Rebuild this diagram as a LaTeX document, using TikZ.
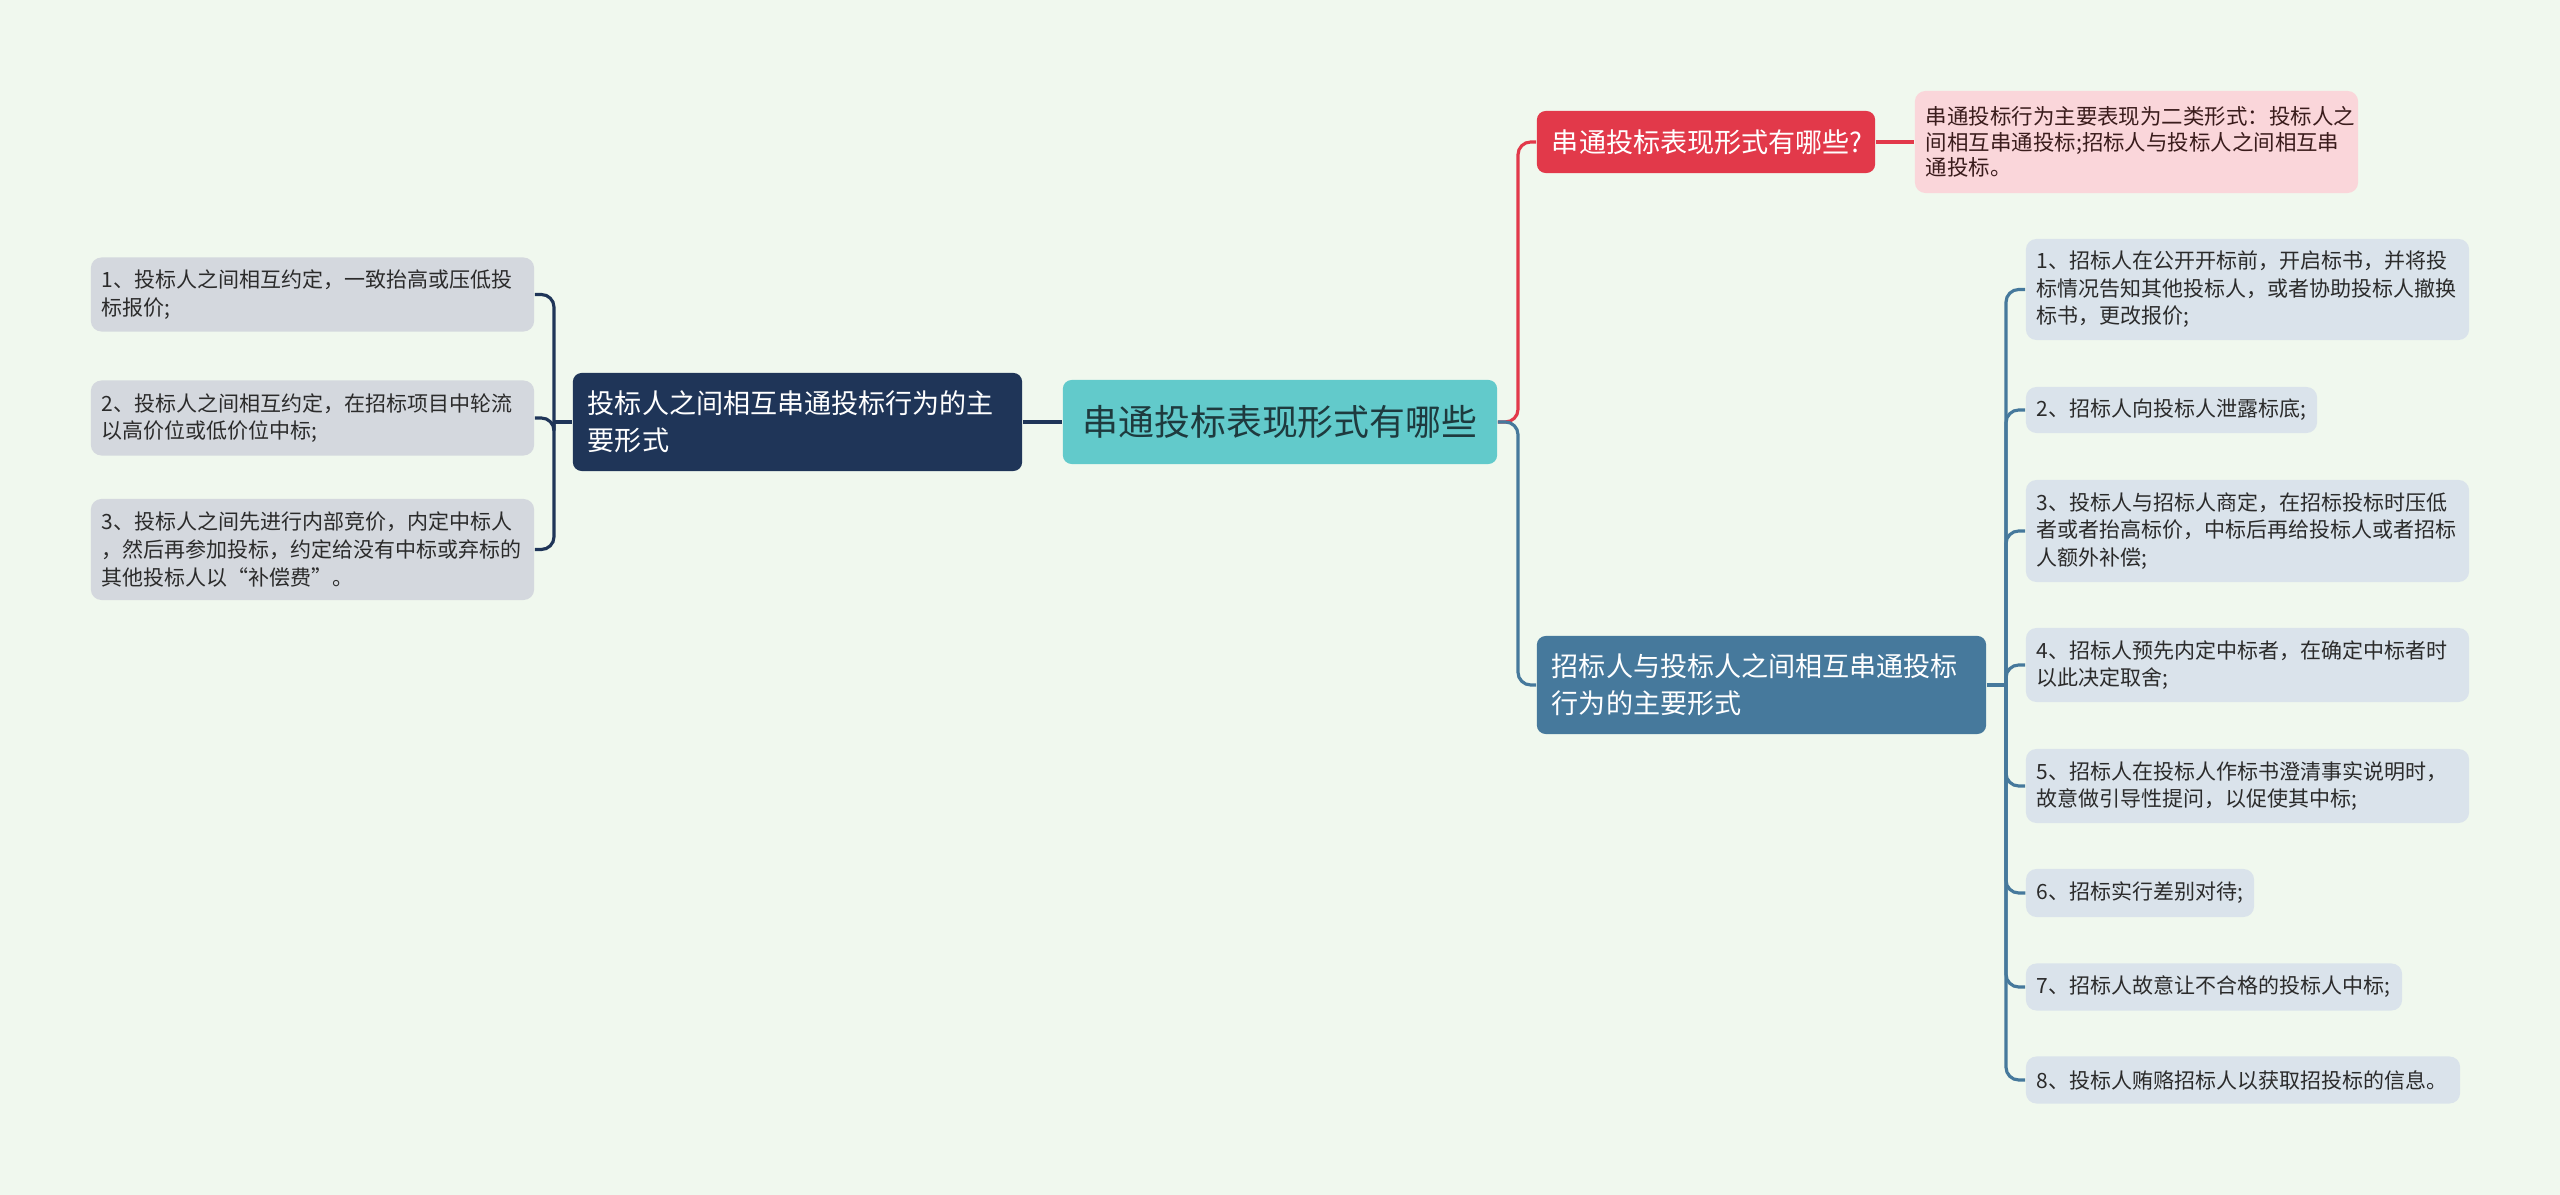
\documentclass[tikz,border=0pt]{standalone}
\usepackage{fontspec}
\setmainfont{Noto Sans CJK SC}
\usetikzlibrary{positioning}
\definecolor{MapBg}{HTML}{F0F8EE}
\definecolor{MapRoot}{HTML}{62CACB}
\definecolor{MapRootText}{HTML}{1E3A3E}
\definecolor{MapNavy}{HTML}{1F3558}
\definecolor{MapRed}{HTML}{E2394A}
\definecolor{MapPink}{HTML}{FAD6DA}
\definecolor{MapPinkText}{HTML}{3A1C1C}
\definecolor{MapBlue}{HTML}{46799C}
\definecolor{MapGray}{HTML}{D4D8DE}
\definecolor{MapIce}{HTML}{DAE3EB}
\definecolor{MapText}{HTML}{2B2B2B}

\begin{document}
\begin{tikzpicture}[x=0.01cm,y=-0.01cm,
    leaf/.style={fill=#1,rounded corners=3pt,inner xsep=0.11cm,inner ysep=0pt,
      align=left,text=MapText,font=\fontsize{5.97}{7.85}\selectfont},
    topic/.style={fill=#1,rounded corners=2.5pt,inner xsep=0.15cm,inner ysep=0pt,
      align=left,text=white,font=\fontsize{7.7}{10.5}\selectfont},
    link/.style={draw=#1,line width=0.9pt,rounded corners=3.6pt}]

  % background
  \fill[MapBg] (0,0) rectangle (2560,1195);
  \useasboundingbox (0,0) rectangle (2560,1195);

  % centre
  \node[fill=MapRoot,rounded corners=2.5pt,inner sep=0pt,text width=4.34cm,
    minimum height=0.84cm,align=center,text=MapRootText,
    font=\fontsize{10.2}{12}\selectfont] (root) at (1280,422) {串通投标表现形式有哪些};

  % left branch
  \node[topic=MapNavy,text width=4.19cm,minimum height=0.98cm] (bidders) at (797.5,422)
    {投标人之间相互串通投标行为的主\\要形式};
  \node[leaf=MapGray,text width=4.21cm,minimum height=0.74cm] (lf1) at (312.5,294.5)
    {1、投标人之间相互约定，一致抬高或压低投\\标报价;};
  \node[leaf=MapGray,text width=4.21cm,minimum height=0.75cm] (lf2) at (312.5,418)
    {2、投标人之间相互约定，在招标项目中轮流\\以高价位或低价位中标;};
  \node[leaf=MapGray,text width=4.21cm,minimum height=1.01cm] (lf3) at (312.5,549.5)
    {3、投标人之间先进行内部竞价，内定中标人\\，然后再参加投标，约定给没有中标或弃标的\\其他投标人以“补偿费”。};

  \coordinate (lj) at (554,422);
  \draw[link=MapNavy] (root.west) -- (bidders.east);
  \draw[link=MapNavy] (bidders.west) -- (lj);
  \foreach \n in {lf1,lf2,lf3}
    \draw[link=MapNavy] (lj) |- (\n.east);

  % right branch, question
  \node[topic=MapRed,text width=3.08cm,minimum height=0.62cm] (ask) at (1706,142)
    {串通投标表现形式有哪些?};
  \node[leaf=MapPink,text=MapPinkText,text width=4.21cm,minimum height=1.02cm,
    font=\fontsize{6.1}{7.2}\selectfont] (answer) at (2136.5,142)
    {串通投标行为主要表现为二类形式：投标人之\\间相互串通投标;招标人与投标人之间相互串\\通投标。};

  % right branch, tenderer
  \node[topic=MapBlue,text width=4.19cm,minimum height=0.98cm] (tenderer) at (1761.5,685)
    {招标人与投标人之间相互串通投标\\行为的主要形式};
  \node[leaf=MapIce,text width=4.21cm,minimum height=1.01cm] (rt1) at (2247.5,289.5)
    {1、招标人在公开开标前，开启标书，并将投\\标情况告知其他投标人，或者协助投标人撤换\\标书，更改报价;};
  \node[leaf=MapIce,text width=2.69cm,minimum height=0.46cm] (rt2) at (2171.5,410)
    {2、招标人向投标人泄露标底;};
  \node[leaf=MapIce,text width=4.21cm,minimum height=1.02cm] (rt3) at (2247.5,531)
    {3、投标人与招标人商定，在招标投标时压低\\者或者抬高标价，中标后再给投标人或者招标\\人额外补偿;};
  \node[leaf=MapIce,text width=4.21cm,minimum height=0.74cm] (rt4) at (2247.5,665)
    {4、招标人预先内定中标者，在确定中标者时\\以此决定取舍;};
  \node[leaf=MapIce,text width=4.21cm,minimum height=0.74cm] (rt5) at (2247.5,786)
    {5、招标人在投标人作标书澄清事实说明时，\\故意做引导性提问，以促使其中标;};
  \node[leaf=MapIce,text width=2.06cm,minimum height=0.48cm] (rt6) at (2140,893)
    {6、招标实行差别对待;};
  \node[leaf=MapIce,text width=3.54cm,minimum height=0.47cm] (rt7) at (2214,987)
    {7、招标人故意让不合格的投标人中标;};
  \node[leaf=MapIce,text width=4.12cm,minimum height=0.47cm] (rt8) at (2243,1080)
    {8、投标人贿赂招标人以获取招投标的信息。};

  \coordinate (rj) at (1518,422);
  \coordinate (bj) at (2006,685);
  \draw[link=MapRed] (root.east) -- (rj) |- (ask.west);
  \draw[link=MapRed] (ask.east) -- (answer.west);
  \draw[link=MapBlue] (root.east) -- (rj) |- (tenderer.west);
  \draw[link=MapBlue] (tenderer.east) -- (bj);
  \foreach \n in {rt1,rt2,rt3,rt4,rt5,rt6,rt7,rt8}
    \draw[link=MapBlue] (bj) |- (\n.west);
\end{tikzpicture}
\end{document}
